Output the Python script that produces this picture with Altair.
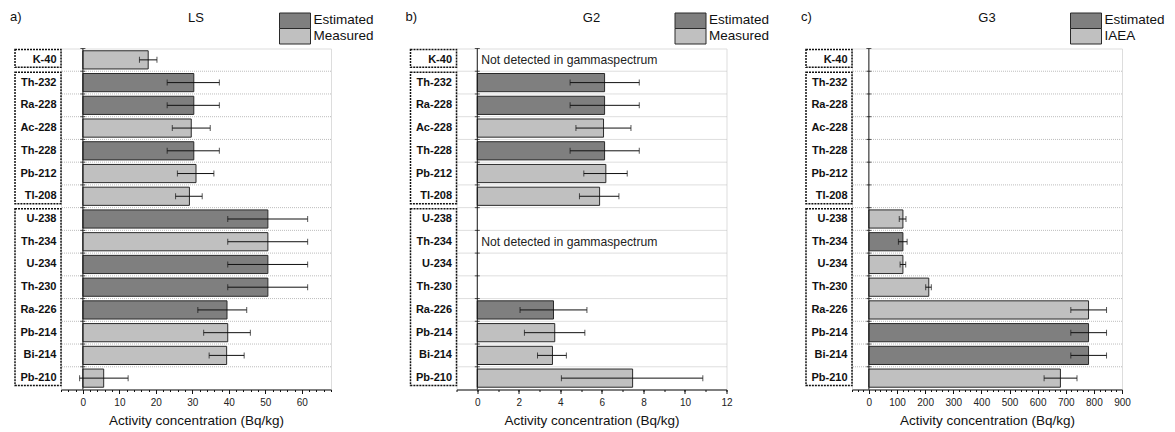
import altair as alt
import pandas as pd

nuclides = ["K-40", "Th-232", "Ra-228", "Ac-228", "Th-228", "Pb-212", "Tl-208",
            "U-238", "Th-234", "U-234", "Th-230", "Ra-226", "Pb-214", "Bi-214", "Pb-210"]
group_first = ["K-40", "Th-232", "U-238"]
group_last = ["K-40", "Tl-208", "Pb-210"]

# Panel a) LS
ls_values = [17.9, 30.4, 30.4, 29.7, 30.4, 31.0, 29.2, 50.7, 50.7, 50.7, 50.7, 39.5, 39.7, 39.4, 5.7]
ls_lower = [15.5, 23.1, 23.1, 24.5, 23.1, 25.9, 25.4, 39.7, 39.7, 39.7, 39.7, 31.5, 33.1, 34.6, -0.9]
ls_upper = [20.3, 37.4, 37.4, 34.9, 37.4, 35.9, 32.7, 61.6, 61.6, 61.6, 61.6, 44.9, 45.9, 44.2, 12.4]
ls_types = ["Measured", "Estimated", "Estimated", "Measured", "Estimated", "Measured", "Measured",
            "Estimated", "Measured", "Estimated", "Estimated", "Estimated", "Measured", "Measured", "Measured"]

# Panel b) G2
g2_values = [None, 6.13, 6.13, 6.08, 6.13, 6.19, 5.89, None, None, None, None, 3.67, 3.73, 3.62, 7.48]
g2_lower = [None, 4.47, 4.47, 4.75, 4.47, 5.13, 4.92, None, None, None, None, 2.06, 2.27, 2.90, 4.05]
g2_upper = [None, 7.80, 7.80, 7.40, 7.80, 7.22, 6.82, None, None, None, None, 5.28, 5.18, 4.29, 10.86]
g2_types = [None, "Estimated", "Estimated", "Measured", "Estimated", "Measured", "Measured",
            None, None, None, None, "Estimated", "Measured", "Measured", "Measured"]
g2_note_rows = ["K-40", "Th-234"]
g2_note_text = "Not detected in gammaspectrum"

# Panel c) G3
g3_values = [None, None, None, None, None, None, None, 121, 121, 121, 213, 781, 781, 781, 681]
g3_lower = [None, None, None, None, None, None, None, 108, 105, 111, 202, 718, 718, 718, 623]
g3_upper = [None, None, None, None, None, None, None, 132, 136, 131, 222, 845, 845, 845, 740]
g3_types = [None, None, None, None, None, None, None, "IAEA", "Estimated", "IAEA", "IAEA",
            "IAEA", "Estimated", "Estimated", "IAEA"]

ls_domain = [-6, 68]
ls_major = list(range(0, 61, 10))
ls_minor = list(range(-6, 69, 2))
g2_domain = [-1, 12]
g2_major = list(range(0, 13, 2))
g2_minor = list(range(-1, 13, 1))
g3_domain = [-60, 900]
g3_major = list(range(0, 901, 100))
g3_minor = list(range(-60, 901, 20))

DARK = "#7f7f7f"
LIGHT = "#c0c0c0"
FONT = "Liberation Sans"

panels = [
    dict(letter="a)", title="LS", values=ls_values, lower=ls_lower, upper=ls_upper, types=ls_types,
         legend=["Estimated", "Measured"], domain=ls_domain, major=ls_major, minor=ls_minor,
         notes=[], note_text=""),
    dict(letter="b)", title="G2", values=g2_values, lower=g2_lower, upper=g2_upper, types=g2_types,
         legend=["Estimated", "Measured"], domain=g2_domain, major=g2_major, minor=g2_minor,
         notes=g2_note_rows, note_text=g2_note_text),
    dict(letter="c)", title="G3", values=g3_values, lower=g3_lower, upper=g3_upper, types=g3_types,
         legend=["Estimated", "IAEA"], domain=g3_domain, major=g3_major, minor=g3_minor,
         notes=[], note_text=""),
]

W = 270
H = 341


def make_panel(p):
    df = pd.DataFrame({"nuclide": nuclides, "value": p["values"], "lower": p["lower"],
                       "upper": p["upper"], "type": p["types"]}).dropna()
    yscale = alt.Scale(domain=nuclides, paddingInner=0, paddingOuter=0)
    xscale = alt.Scale(domain=p["domain"], nice=False, zero=False)
    yaxis = alt.Axis(title=None, ticks=False, domain=False, grid=False, labelFontWeight="bold",
                     labelFontSize=11, labelPadding=5, labelColor="#111", labelFont=FONT)
    xaxis = alt.Axis(values=p["major"], tickCount=len(p["major"]) + 1,
                     title="Activity concentration (Bq/kg)", orient="bottom",
                     labelOverlap=False, labelFlush=False, tickSize=4,
                     grid=False, domainColor="#111", tickColor="#111", labelFontSize=10,
                     labelColor="#222", labelPadding=3.5, titleFontSize=13.5, titleFontWeight="normal",
                     titlePadding=6, titleColor="#111", labelFont=FONT, titleFont=FONT)
    minor_axis = alt.Axis(values=p["minor"], tickCount=len(p["minor"]) + 1, orient="bottom",
                          labels=False, title=None, domain=False, grid=False, tickSize=2,
                          tickColor="#111")

    Y = lambda f="nuclide:N", **kw: alt.Y(f, scale=yscale, axis=yaxis, **kw)
    X = lambda f, **kw: alt.X(f, scale=xscale, axis=xaxis, **kw)

    grid_df = pd.DataFrame({"nuclide": nuclides[1:]})
    grid = alt.Chart(grid_df).mark_rule(color="#bdbdbd", strokeDash=[1, 1], strokeWidth=1).encode(
        y=Y(bandPosition=0))

    bars = alt.Chart(df).mark_bar(height=alt.RelativeBandSize(0.8), stroke="#2a2a2a",
                                  strokeWidth=1).encode(
        y=Y(), x=X("value:Q"), x2=alt.datum(0),
        color=alt.Color("type:N", scale=alt.Scale(domain=p["legend"], range=[DARK, LIGHT]),
                        legend=None))
    err = alt.Chart(df).mark_rule(color="#111", strokeWidth=1).encode(
        y=Y(), x=X("lower:Q"), x2="upper:Q")
    cap_lo = alt.Chart(df).mark_tick(color="#111", size=6, thickness=1).encode(
        y=Y(), x=X("lower:Q"))
    cap_hi = alt.Chart(df).mark_tick(color="#111", size=6, thickness=1).encode(
        y=Y(), x=X("upper:Q"))

    tick_df = pd.DataFrame({"nuclide": nuclides})
    yline = alt.Chart(tick_df).mark_rule(color="#111", strokeWidth=1).encode(
        x=alt.datum(0)).transform_filter("datum.nuclide === 'K-40'")
    yticks = alt.Chart(tick_df).mark_tick(orient="horizontal", size=5, thickness=1, color="#111").encode(
        y=Y(bandPosition=0), x=alt.datum(0))

    box_df = pd.DataFrame({"nuclide": group_first, "last": group_last})
    boxes = alt.Chart(box_df).mark_rect(fill="transparent", stroke="#111", strokeDash=[2, 1],
                                        strokeWidth=1.5, yOffset=1, y2Offset=-4).encode(
        y=Y(bandPosition=0), y2=alt.Y2("last:N", bandPosition=1),
        x=alt.value(-46), x2=alt.value(0))

    main_layers = [grid, bars, err, cap_lo, cap_hi, yline, yticks, boxes]

    if p["notes"]:
        note_df = pd.DataFrame({"nuclide": p["notes"], "note": [p["note_text"]] * len(p["notes"])})
        notes = alt.Chart(note_df).mark_text(align="left", baseline="middle", dx=4, fontSize=12.2,
                                             font=FONT, color="#222").encode(
            y=Y(), x=alt.datum(0), text="note:N")
        main_layers.append(notes)

    one = pd.DataFrame({"k": [0]})
    letter = alt.Chart(one).mark_text(text=p["letter"], align="left", baseline="alphabetic",
                                      fontSize=13, font=FONT, color="#111").encode(
        x=alt.value(-51), y=alt.value(-28))
    title = alt.Chart(one).mark_text(text=p["title"], align="center", baseline="alphabetic",
                                     fontSize=13, font=FONT, color="#111").encode(
        x=alt.value(W / 2), y=alt.value(-27))
    main_layers += [letter, title]

    colors = [DARK, LIGHT]
    for i, lab in enumerate(p["legend"]):
        sw = alt.Chart(one).mark_rect(fill=colors[i], stroke="#2a2a2a", strokeWidth=1).encode(
            x=alt.value(218.5), x2=alt.value(249.5),
            y=alt.value(-35.5 + 15.5 * i), y2=alt.value(-20 + 15.5 * i))
        tx = alt.Chart(one).mark_text(text=lab, align="left", baseline="middle", fontSize=13.5,
                                      font=FONT, color="#111").encode(
            x=alt.value(252.5), y=alt.value(-28.5 + 15.5 * i))
        main_layers += [sw, tx]

    main = alt.layer(*main_layers)
    minor = alt.Chart(df).mark_point(opacity=0).encode(
        x=alt.X("value:Q", scale=xscale, axis=minor_axis), y=Y())
    return alt.layer(main, minor).resolve_axis(x="independent").properties(width=W, height=H)


chart = alt.hconcat(*[make_panel(p) for p in panels], spacing=29.5).resolve_scale(
    color="independent").properties(
    padding={"left": 9, "top": 9.5, "right": 0, "bottom": 0}
).configure_view(stroke=None).configure(font=FONT)

chart.save("out.html", embed_options={"renderer": "svg", "actions": False})
